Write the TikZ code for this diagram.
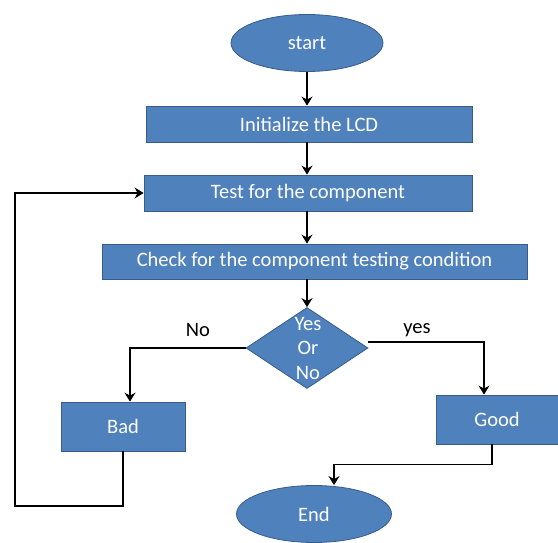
\documentclass[tikz,border=0pt]{standalone}
\usepackage{fontspec}
\setmainfont{Carlito}
\usetikzlibrary{shapes.geometric,arrows.meta,calc}
\definecolor{boxfill}{HTML}{4F81BD}
\definecolor{boxline}{HTML}{385D8A}
\begin{document}
\begin{tikzpicture}[x=1pt,y=-1pt,
  txt/.style={font=\fontsize{20.5}{24.5}\selectfont},
  box/.style={txt,draw=boxline,line width=0.8pt,fill=boxfill,text=white,inner sep=0pt},
  term/.style={box,ellipse},
  dec/.style={box,diamond},
  lbl/.style={txt,text=black,inner sep=0pt},
  arr/.style={line width=1.6pt,-{Stealth[length=9pt,width=11pt,inset=3pt]}}]
\fill[white] (0,0) rectangle (558,543);
\useasboundingbox (0,0) rectangle (558,543);
\node[term,minimum width=152pt,minimum height=57pt] (start) at (307,43) {start};
\node[box,minimum width=326pt,minimum height=36pt] (init) at (309,124) {Initialize the LCD};
\node[box,minimum width=328pt,minimum height=36pt] (test) at (308,193) {Test for the component};
\node[box,minimum width=425pt,minimum height=35pt] (check) at (314.5,261.5) {Check for the component testing condition};
\node[dec,minimum width=122pt,minimum height=81pt] (dia) at (307,348) {};
\node[txt,text=white,align=center,inner sep=0pt] (diatext) at (308,348) {Yes\\Or\\No};
\node[box,minimum width=124pt,minimum height=49pt] (bad) at (123,426.5) {Bad};
\node[box,minimum width=122pt,minimum height=49pt] (good) at (497,419.5) {Good};
\node[term,minimum width=155pt,minimum height=57pt] (endn) at (314,514) {End};
\node[lbl] (no) at (198,330) {No};
\node[lbl] (yes) at (417,330) {yes};
\coordinate (col) at (307,0);
\coordinate (loopc) at (15,506);
\draw[arr] (start.south -| col) -- (init.north -| col);
\draw[arr] (init.south -| col) -- (test.north -| col);
\draw[arr] (test.south -| col) -- (check.north -| col);
\draw[arr] (check.south -| col) -- (dia.north);
\draw[arr] (dia.west) -| ([xshift=7pt]bad.north);
\draw[arr] ([yshift=6pt]dia.east) -| ([xshift=-13pt]good.north);
\draw[arr] ([xshift=-5pt]good.south) -- ++(0,20) -| ([xshift=20pt]endn.north);
\draw[arr] (bad.south) |- (loopc) |- (test.west);
\end{tikzpicture}
\end{document}
